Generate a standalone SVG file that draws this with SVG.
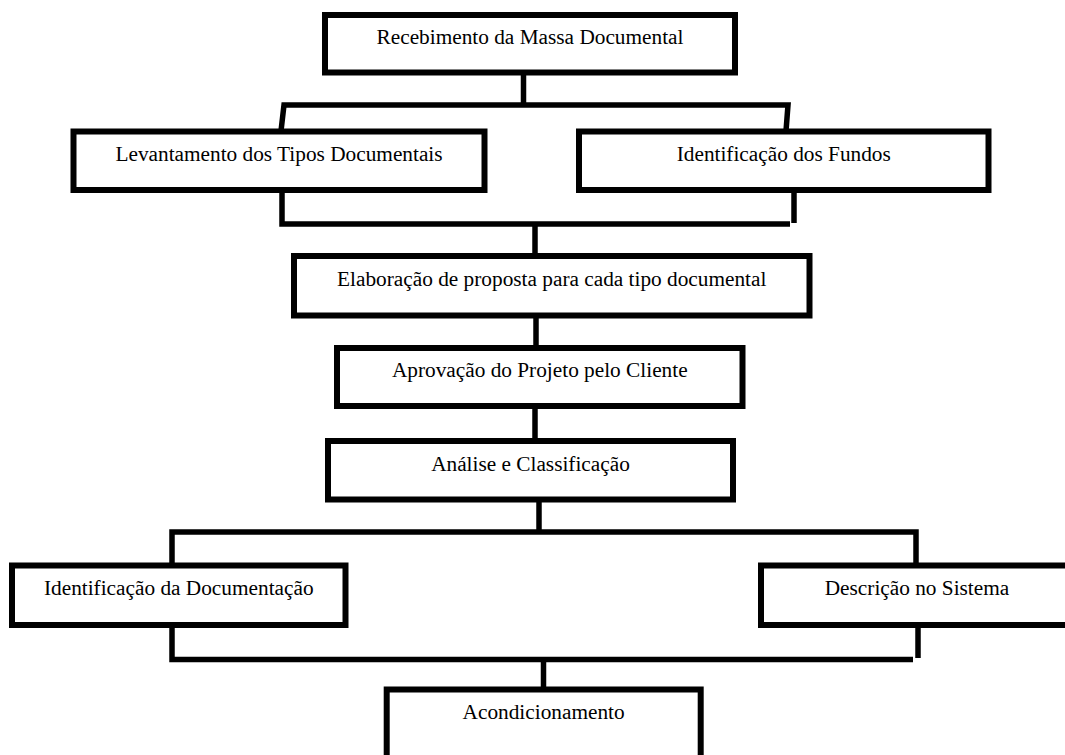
<svg xmlns="http://www.w3.org/2000/svg" width="1065" height="755" viewBox="0 0 1065 755">
<style>
.box{fill:#fff;stroke:#000;stroke-width:6}
.lbl{font-family:'Liberation Serif',Tinos,'Times New Roman',Times,serif;font-size:21.3px;fill:#000;text-anchor:middle}
.c{fill:none;stroke:#000;stroke-width:5.5;stroke-linecap:butt;stroke-linejoin:miter}
</style>
<rect width="1065" height="755" fill="#fff"/>
<g id="connectors">
<line class="c" x1="523.5" y1="74" x2="523.5" y2="106"/>
<polyline class="c" points="281,131 284,105 788,105 786,131"/>
<polyline class="c" points="282,191 282,224 790,224"/>
<line class="c" x1="794" y1="191" x2="794" y2="223"/>
<line class="c" x1="535" y1="222" x2="535" y2="256"/>
<line class="c" x1="536" y1="315" x2="536" y2="348"/>
<line class="c" x1="535" y1="406" x2="535" y2="441"/>
<line class="c" x1="539" y1="500" x2="539" y2="533"/>
<polyline class="c" points="172,566 172,532 916,532 916,566"/>
<polyline class="c" points="172,625 172,659.5 913,659.5"/>
<line class="c" x1="918" y1="625" x2="918" y2="658"/>
<line class="c" x1="543.5" y1="658" x2="543.5" y2="690"/>
</g>
<g font-family="Liberation Serif, serif">
<g id="n1"><rect class="box" x="325" y="15" width="410" height="57.5"/><text class="lbl" x="530" y="43.5" font-family="Liberation Serif, serif">Recebimento da Massa Documental</text></g>
<g id="n2"><rect class="box" x="73.5" y="131.5" width="411" height="58.5"/><text class="lbl" x="279" y="161">Levantamento dos Tipos Documentais</text></g>
<g id="n3"><rect class="box" x="579" y="131.5" width="409.5" height="58.5"/><text class="lbl" x="783.75" y="161">Identificação dos Fundos</text></g>
<g id="n4"><rect class="box" x="294" y="256" width="515.5" height="59.5"/><text class="lbl" x="551.75" y="285.5">Elaboração de proposta para cada tipo documental</text></g>
<g id="n5"><rect class="box" x="337" y="348" width="405.5" height="58"/><text class="lbl" x="539.75" y="376.5">Aprovação do Projeto pelo Cliente</text></g>
<g id="n6"><rect class="box" x="328" y="441" width="405" height="58.5"/><text class="lbl" x="530.5" y="470.5">Análise e Classificação</text></g>
<g id="n7"><rect class="box" x="12" y="565.5" width="333.5" height="59.5"/><text class="lbl" x="178.75" y="595">Identificação da Documentação</text></g>
<g id="n8"><rect class="box" x="761" y="565.5" width="312" height="59.5"/><text class="lbl" x="917" y="595">Descrição no Sistema</text></g>
<g id="n9"><rect class="box" x="386.7" y="689.5" width="314" height="90"/><text class="lbl" x="543.6" y="718.5">Acondicionamento</text></g>
</g>
</svg>
